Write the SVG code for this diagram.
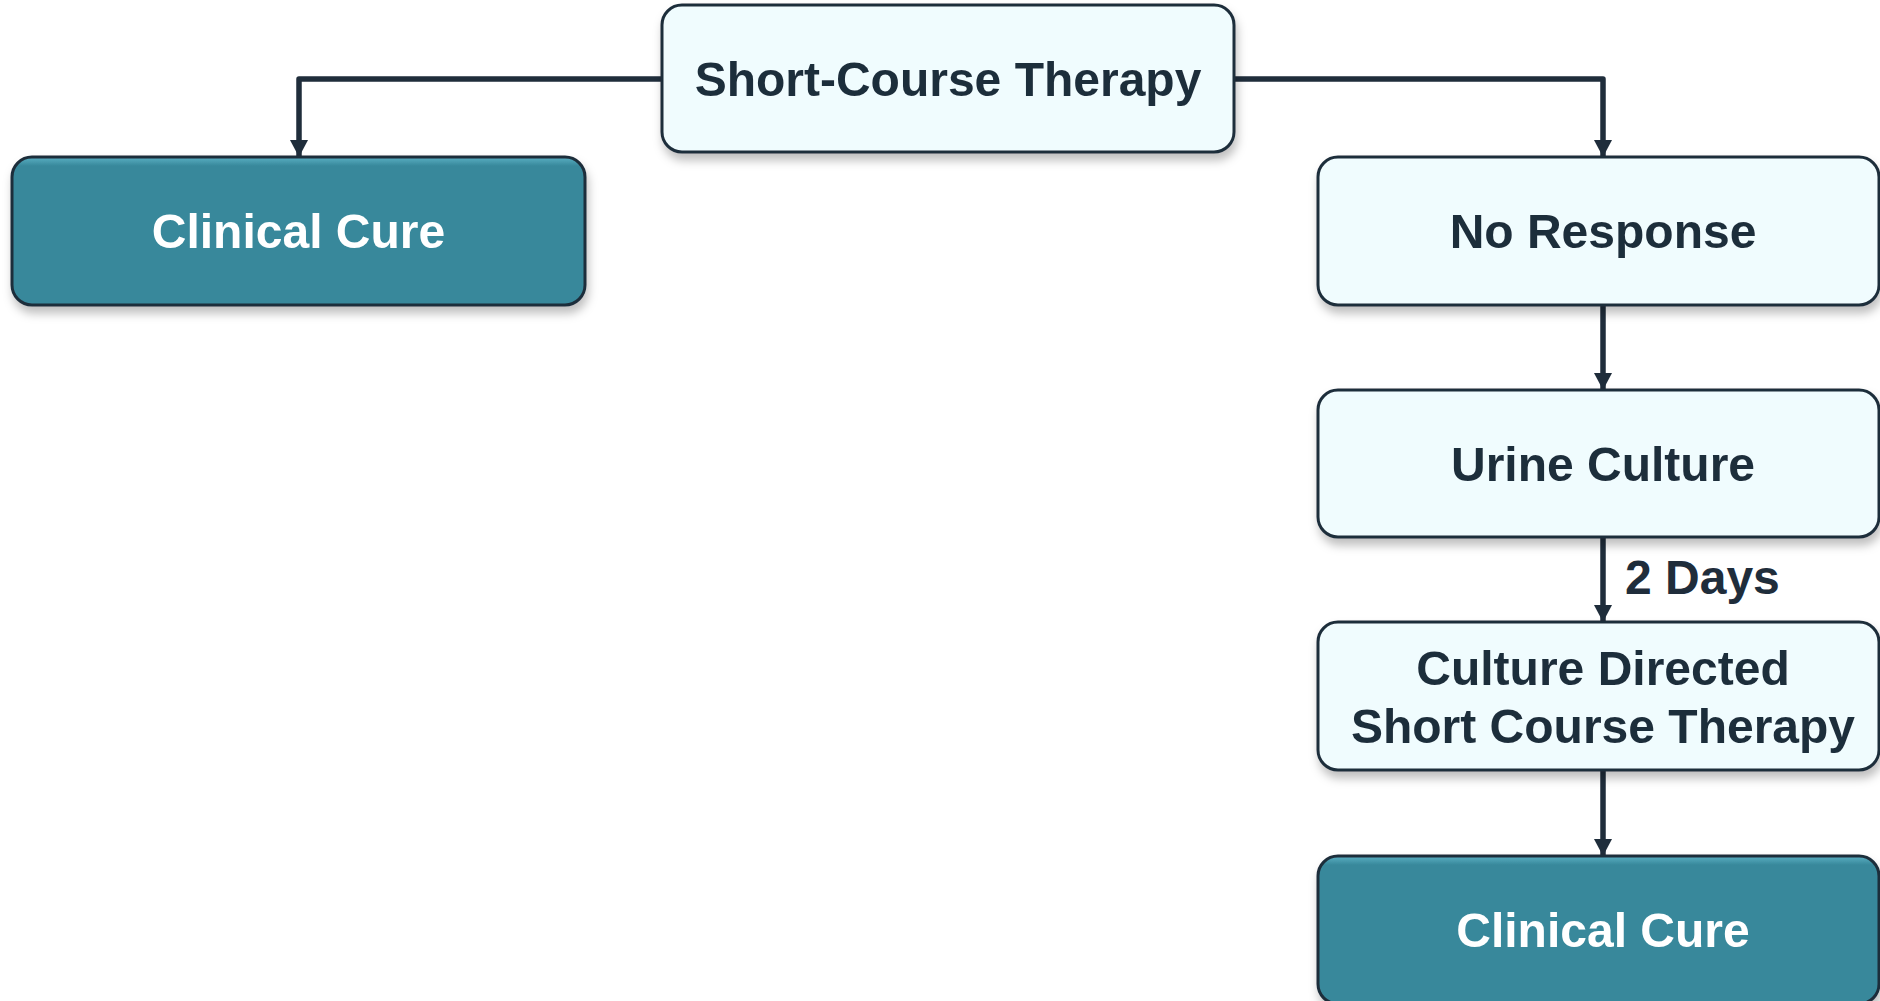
<svg xmlns="http://www.w3.org/2000/svg" width="1880" height="1001" viewBox="0 0 1880 1001">
<defs>
<style>
.light{fill:#F0FCFE;stroke:#1F2D3B;stroke-width:3}
.teal{fill:#38889B;stroke:#1F2D3B;stroke-width:3}
.t{font-family:"Liberation Sans",Arial,sans-serif;font-weight:bold;font-size:48px;text-anchor:middle}
.dk{fill:#1F2D3B}
.wt{fill:#FFFFFF}
.conn{fill:none;stroke:#1F2D3B;stroke-width:5.5;stroke-linejoin:round}
</style>
<filter id="sh" x="-10%" y="-20%" width="120%" height="150%">
<feDropShadow dx="2" dy="7" stdDeviation="5" flood-color="#000" flood-opacity="0.25"/>
</filter>
<linearGradient id="tg" x1="0" y1="0" x2="0" y2="1">
<stop offset="0" stop-color="#5BB0C4"/>
<stop offset="0.06" stop-color="#38889B"/>
<stop offset="1" stop-color="#38889B"/>
</linearGradient>
<marker id="ah" markerUnits="userSpaceOnUse" markerWidth="20" markerHeight="20" refX="17" refY="9" orient="auto">
<path d="M0,0 L17,9 L0,18 z" fill="#1F2D3B"/>
</marker>
</defs>
<rect width="1880" height="1001" fill="#FFFFFF"/>
<g id="connectors">
<path class="conn" d="M662,79 H299 V157" marker-end="url(#ah)"/>
<path class="conn" d="M1234,79 H1603 V157" marker-end="url(#ah)"/>
<path class="conn" d="M1603,305 V390" marker-end="url(#ah)"/>
<path class="conn" d="M1603,537 V622" marker-end="url(#ah)"/>
<path class="conn" d="M1603,770 V856" marker-end="url(#ah)"/>
<text class="t dk" x="1625" y="594" style="text-anchor:start">2 Days</text>
</g>
<g id="short-course-therapy" filter="url(#sh)">
<rect class="light" x="662" y="5" width="572" height="147" rx="20"/>
<text class="t dk" x="948" y="96">Short-Course Therapy</text>
</g>
<g id="clinical-cure-left" filter="url(#sh)">
<rect class="teal" x="12" y="157" width="573" height="148" rx="20" style="fill:url(#tg)"/>
<text class="t wt" x="298.5" y="248">Clinical Cure</text>
</g>
<g id="no-response" filter="url(#sh)">
<rect class="light" x="1318" y="157" width="561" height="148" rx="20"/>
<text class="t dk" x="1603" y="248">No Response</text>
</g>
<g id="urine-culture" filter="url(#sh)">
<rect class="light" x="1318" y="390" width="561" height="147" rx="20"/>
<text class="t dk" x="1603" y="481">Urine Culture</text>
</g>
<g id="culture-directed" filter="url(#sh)">
<rect class="light" x="1318" y="622" width="561" height="148" rx="20"/>
<text class="t dk" x="1603" y="685">Culture Directed</text>
<text class="t dk" x="1603" y="743">Short Course Therapy</text>
</g>
<g id="clinical-cure-right" filter="url(#sh)">
<rect class="teal" x="1318" y="856" width="561" height="148" rx="20" style="fill:url(#tg)"/>
<text class="t wt" x="1603" y="947">Clinical Cure</text>
</g>
</svg>
